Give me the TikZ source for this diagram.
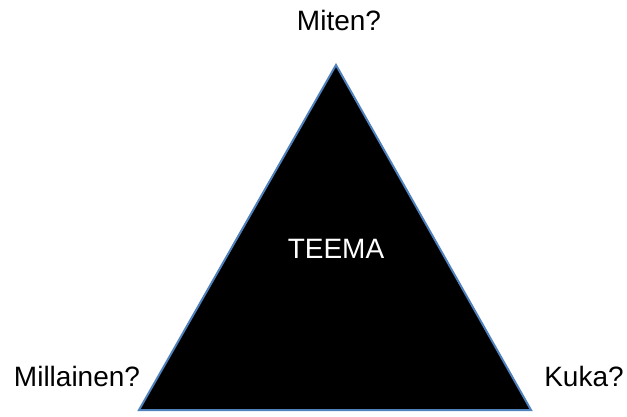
\documentclass[tikz,border=0pt]{standalone}
\usepackage{fontspec}
\setmainfont{Liberation Sans}
\definecolor{edgeblue}{RGB}{79,129,189}

\begin{document}
\begin{tikzpicture}[x=1pt,y=-1pt]
        \useasboundingbox (0,0) rectangle (627,416);
        \tikzset{lbl/.style={font=\fontsize{28}{33}\selectfont, inner sep=0pt}}
        \coordinate (top) at (336,65);
        \coordinate (bl) at (139,410);
        \coordinate (br) at (531,410);
        \draw[edgeblue, line width=2pt, fill=black, line join=miter] (top) -- (br) -- (bl) -- cycle;
        \node[lbl, text=white] (teema) at (336,249) {TEEMA};
        \node[lbl] (miten) at (339,20) {Miten?};
        \node[lbl] (millainen) at (77,376) {Millainen?};
        \node[lbl] (kuka) at (584,376) {Kuka?};
    \end{tikzpicture}
\end{document}
